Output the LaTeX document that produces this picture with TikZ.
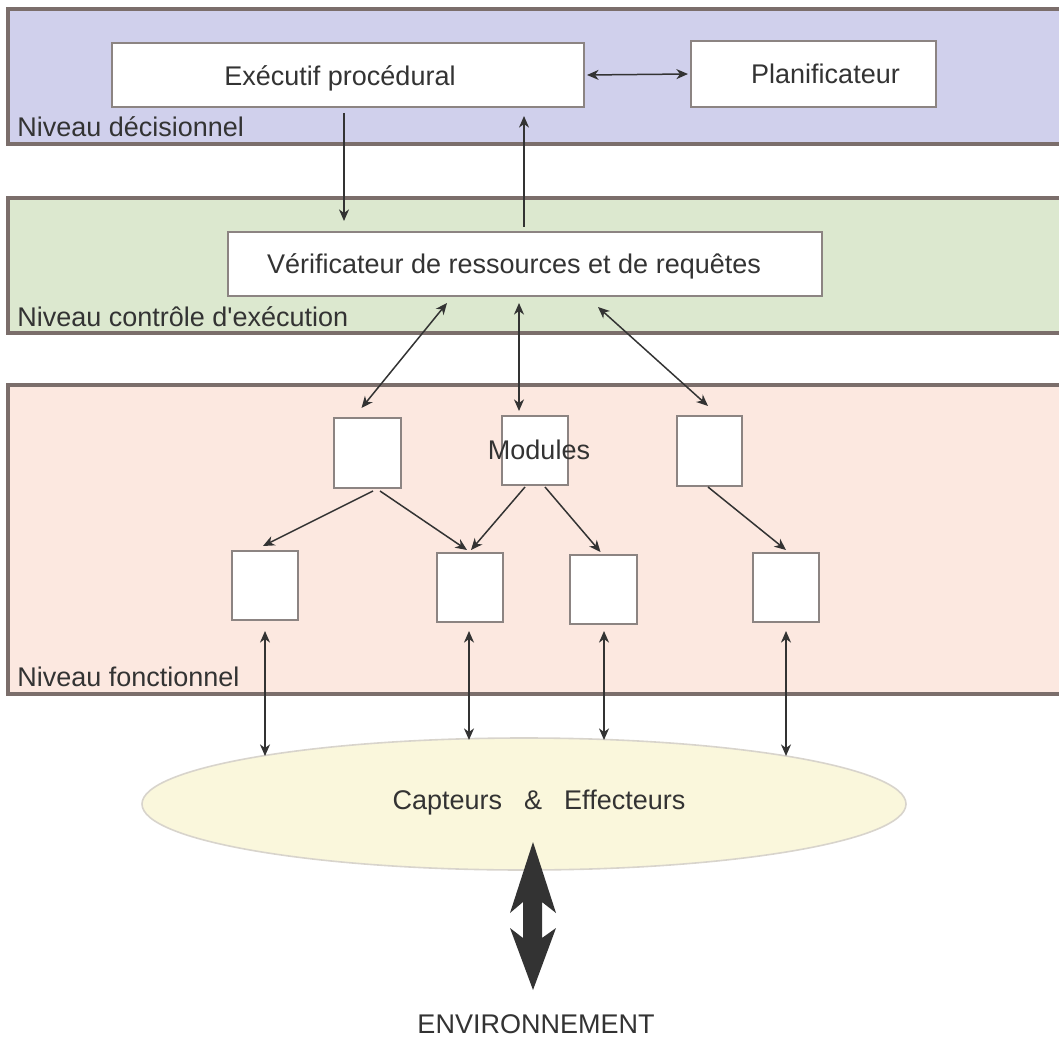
\documentclass[tikz,border=0pt]{standalone}
\usepackage{fontspec}
\setmainfont{Liberation Sans}[Ligatures=TeXOff]
\usetikzlibrary{arrows.meta,shapes.geometric}
\definecolor{bandA}{RGB}{208,208,236}
\definecolor{bandB}{RGB}{220,232,207}
\definecolor{bandC}{RGB}{252,232,224}
\definecolor{bandline}{RGB}{123,110,107}
\definecolor{boxline}{RGB}{140,132,130}
\definecolor{ink}{RGB}{51,51,51}
\definecolor{capsfill}{RGB}{250,247,220}
\definecolor{capsline}{RGB}{216,212,204}
\tikzset{
  lbl/.style={text=ink, font=\fontsize{13.5}{16}\selectfont},
  box/.style={draw=boxline, line width=1pt, fill=white, rectangle, inner sep=0pt, lbl},
  bandedge/.style={draw=bandline, line width=1.6pt},
  tip/.tip={Stealth[length=5.8pt,width=5pt,inset=1.8pt]},
  conn/.style={draw=ink, line width=0.75pt, tip-tip},
  connto/.style={draw=ink, line width=0.75pt, -tip},
  bandlabel/.style={lbl, anchor=base west, inner sep=0pt}
}
\begin{document}
\begin{tikzpicture}[x=0.5pt,y=-0.5pt]
\useasboundingbox (0,0) rectangle (1059,1037);
% bands
\fill[bandA] (8,9) rectangle (1070,144);
\draw[bandedge] (1070,9) -- (8,9) -- (8,144) -- (1070,144);
\fill[bandB] (8,198) rectangle (1070,333);
\draw[bandedge] (1070,198) -- (8,198) -- (8,333) -- (1070,333);
\fill[bandC] (8,385) rectangle (1070,694);
\draw[bandedge] (1070,385) -- (8,385) -- (8,694) -- (1070,694);
\node[bandlabel] (lab1) at (17,137) {Niveau décisionnel};
\node[bandlabel] (lab2) at (17,327) {Niveau contrôle d'exécution};
\node[bandlabel] (lab3) at (17,686) {Niveau fonctionnel};
% boxes
\node[box, minimum width=236pt, minimum height=32pt] (exec) at (348,75) {\raisebox{-1.5pt}[\height][\depth]{Exécutif procédural}\hspace*{8pt}};
\node[box, minimum width=122.5pt, minimum height=33pt] (plan) at (813.5,74) {\hspace*{12pt}Planificateur};
\node[box, minimum width=297pt, minimum height=32pt] (verif) at (525,264) {\raisebox{-1pt}[\height][\depth]{Vérificateur de ressources et de requêtes}\hspace*{11pt}};
\node[box, minimum width=33.5pt, minimum height=35pt] (m1) at (367.5,453) {};
\node[box, minimum width=33pt, minimum height=34.5pt] (m2) at (535,450.5) {};
\node[box, minimum width=32.5pt, minimum height=35pt] (m3) at (709.5,451) {};
\node[lbl, inner sep=0pt] (modtext) at (539,450) {Modules};
\node[box, minimum width=33pt, minimum height=34.5pt] (b1) at (265,585.5) {};
\node[box, minimum width=33pt, minimum height=34.5pt] (b2) at (470,587.5) {};
\node[box, minimum width=33.5pt, minimum height=34.5pt] (b3) at (603.5,589.5) {};
\node[box, minimum width=33pt, minimum height=34.5pt] (b4) at (786,587.5) {};
\node[ellipse, draw=capsline, line width=0.8pt, fill=capsfill, minimum width=382pt, minimum height=66pt, inner sep=0pt] (caps) at (524,804) {};
\node[lbl, inner sep=0pt] (capstext) at (539,803) {Capteurs\hspace{11pt}\&\hspace{11pt}Effecteurs};
\node[lbl, inner sep=0pt] (env) at (536,1024) {ENVIRONNEMENT};
% connectors
\draw[conn] ([shift={(2,0)}]exec.east) -- ([shift={(-2,0)}]plan.west);
\draw[connto] ([shift={(-4,5)}]exec.south) -- ([shift={(-181,-10)}]verif.north);
\draw[connto] ([shift={(-1,-4)}]verif.north) -- ([shift={(176,8)}]exec.south);
\draw[conn] ([shift={(-78,6)}]verif.south) -- ([shift={(-6,-9)}]m1.north);
\draw[conn] ([shift={(-6,6)}]verif.south) -- ([shift={(-16,-4)}]m2.north);
\draw[conn] ([shift={(73,10)}]verif.south) -- ([shift={(-1.5,-9)}]m3.north);
\draw[connto] ([shift={(5.5,2)}]m1.south) -- ([shift={(-2,-4)}]b1.north);
\draw[connto] ([shift={(12.5,2)}]m1.south) -- ([shift={(-3,-2)}]b2.north);
\draw[connto] ([shift={(-10,1)}]m2.south) -- ([shift={(1,-2)}]b2.north);
\draw[connto] ([shift={(10,1)}]m2.south) -- ([shift={(-3,-2)}]b3.north);
\draw[connto] ([shift={(-1.5,0)}]m3.south) -- ([shift={(0,-2)}]b4.north);
\draw[conn] ([shift={(0,10)}]b1.south) -- ([shift={(-259,-48)}]caps.center);
\draw[conn] ([shift={(-1,8)}]b2.south) -- ([shift={(-55,-64)}]caps.center);
\draw[conn] ([shift={(0.5,6)}]b3.south) -- ([shift={(80,-64)}]caps.center);
\draw[conn] ([shift={(0,8)}]b4.south) -- ([shift={(262,-48)}]caps.center);
% big double arrow
\fill[ink] (533,842) -- (556,913) -- (542,902) -- (542,938) -- (556,928) -- (533,990)
  -- (510,928) -- (523,938) -- (523,902) -- (510,913) -- cycle;
\end{tikzpicture}
\end{document}
